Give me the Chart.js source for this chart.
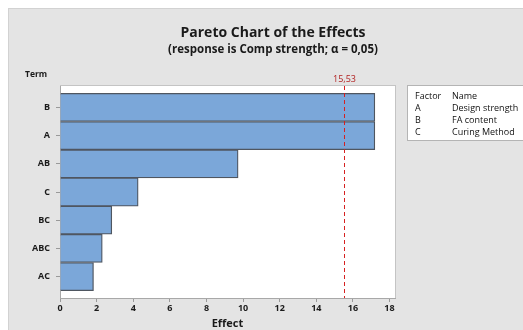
<!DOCTYPE html>
<html>
<head>
<meta charset="utf-8">
<script src="https://cdn.jsdelivr.net/npm/chart.js@4/dist/chart.umd.min.js"></script>
<style>
  html, body { margin: 0; padding: 0; background: #fff; }
  #wrap { width: 523px; height: 330px; }
</style>
</head>
<body>
<div id="wrap"><canvas id="chart" width="523" height="330"></canvas></div>
<script>
const terms = ['B', 'A', 'AB', 'C', 'BC', 'ABC', 'AC'];
const effects = [17.2, 17.2, 9.73, 4.27, 2.83, 2.31, 1.83];
const critical = 15.53;
const criticalLabel = '15,53';
const xTicks = [0, 2, 4, 6, 8, 10, 12, 14, 16, 18];
const factorCodes = ['A', 'B', 'C'];
const factorNames = ['Design strength', 'FA content', 'Curing Method'];

const FONT = '"Open Sans", "Noto Sans", sans-serif';

// background, titles, reference line and factor table
const decor = {
  id: 'decor',
  beforeDraw(chart) {
    const ctx = chart.ctx;
    const a = chart.chartArea;
    ctx.save();
    ctx.fillStyle = '#fff';
    ctx.fillRect(0, 0, chart.width, chart.height);
    ctx.fillStyle = '#e4e4e4';
    ctx.fillRect(8, 8, chart.width - 8, chart.height - 8);
    ctx.strokeStyle = '#d2d2d2';
    ctx.lineWidth = 1;
    ctx.strokeRect(8.5, 8.5, chart.width, chart.height);
    ctx.fillStyle = '#fff';
    ctx.fillRect(a.left, a.top, a.right - a.left, a.bottom - a.top);
    ctx.strokeStyle = '#c4c4c4';
    ctx.strokeRect(a.left + 0.5, a.top - 0.5, a.right - a.left, a.bottom - a.top + 1);
    ctx.restore();
  },
  afterDraw(chart) {
    const ctx = chart.ctx;
    const a = chart.chartArea;
    const x = chart.scales.x;
    ctx.save();
    // titles
    ctx.fillStyle = '#1a1a1a';
    ctx.textAlign = 'center';
    ctx.textBaseline = 'middle';
    ctx.font = 'bold 14px ' + FONT;
    ctx.fillText('Pareto Chart of the Effects', 273, 33);
    ctx.font = 'bold 11.5px ' + FONT;
    ctx.fillText('(response is Comp strength; \u03b1 = 0,05)', 273, 50);
    ctx.textAlign = 'left';
    ctx.font = 'bold 8.5px ' + FONT;
    ctx.fillText('Term', 25, 75);
    // critical line
    const px = Math.round(x.getPixelForValue(critical)) + 0.5;
    ctx.strokeStyle = '#d62020';
    ctx.lineWidth = 1;
    ctx.setLineDash([4, 3]);
    ctx.beginPath();
    ctx.moveTo(px, a.top);
    ctx.lineTo(px, a.bottom);
    ctx.stroke();
    ctx.setLineDash([]);
    ctx.fillStyle = '#b22222';
    ctx.textAlign = 'center';
    ctx.font = '9px ' + FONT;
    ctx.fillText(criticalLabel, px, 79);
    // factor table
    ctx.fillStyle = '#fff';
    ctx.fillRect(407, 85, 130, 55);
    ctx.strokeStyle = '#b4b4b4';
    ctx.strokeRect(407.5, 85.5, 130, 55);
    ctx.fillStyle = '#111';
    ctx.textAlign = 'left';
    ctx.font = '9px ' + FONT;
    ctx.fillText('Factor', 415, 96);
    ctx.fillText('Name', 452, 96);
    factorCodes.forEach((c, i) => {
      const y = 108 + i * 12.3;
      ctx.fillText(c, 415, y);
      ctx.fillText(factorNames[i], 452, y);
    });
    ctx.restore();
  }
};

new Chart(document.getElementById('chart'), {
  type: 'bar',
  data: {
    datasets: [{
      data: effects.map((v, i) => ({ x: v, y: i })),
      backgroundColor: '#7ba7d9',
      borderColor: '#4f5660',
      borderWidth: 1.3,
      barThickness: 'flex',
      barPercentage: 1,
      categoryPercentage: 1,
    }]
  },
  options: {
    indexAxis: 'y',
    responsive: false,
    animation: false,
    layout: { padding: { left: 0, top: 86, right: 128, bottom: 0 } },
    plugins: {
      legend: { display: false },
      tooltip: { enabled: false },
    },
    scales: {
      x: {
        type: 'linear',
        min: 0,
        max: 18.3,
        afterBuildTicks: s => { s.ticks = xTicks.map(v => ({ value: v })); },
        afterFit: s => { s.height = 32; },
        grid: { drawOnChartArea: false, drawTicks: true, tickLength: 4, color: '#9a9a9a' },
        border: { display: true, color: '#a8a8a8' },
        ticks: { color: '#1a1a1a', font: { family: FONT, size: 9, weight: 'bold' }, padding: 1, maxRotation: 0 },
        title: { display: true, text: 'Effect', color: '#1a1a1a', font: { family: FONT, size: 11, weight: 'bold' }, padding: { top: 0, bottom: 0 } },
      },
      y: {
        type: 'linear',
        reverse: true,
        offset: false,
        min: -0.76,
        max: 6.76,
        afterBuildTicks: s => { s.ticks = terms.map((t, i) => ({ value: i })); },
        afterFit: s => { s.width = 60; },
        grid: { offset: false, drawOnChartArea: false, drawTicks: true, tickLength: 4, color: '#9a9a9a' },
        border: { display: true, color: '#a8a8a8' },
        ticks: {
          color: '#1a1a1a',
          font: { family: FONT, size: 9, weight: 'bold' },
          padding: 6,
          callback: v => terms[v],
        },
      },
    },
  },
  plugins: [decor],
});
</script>
</body>
</html>
